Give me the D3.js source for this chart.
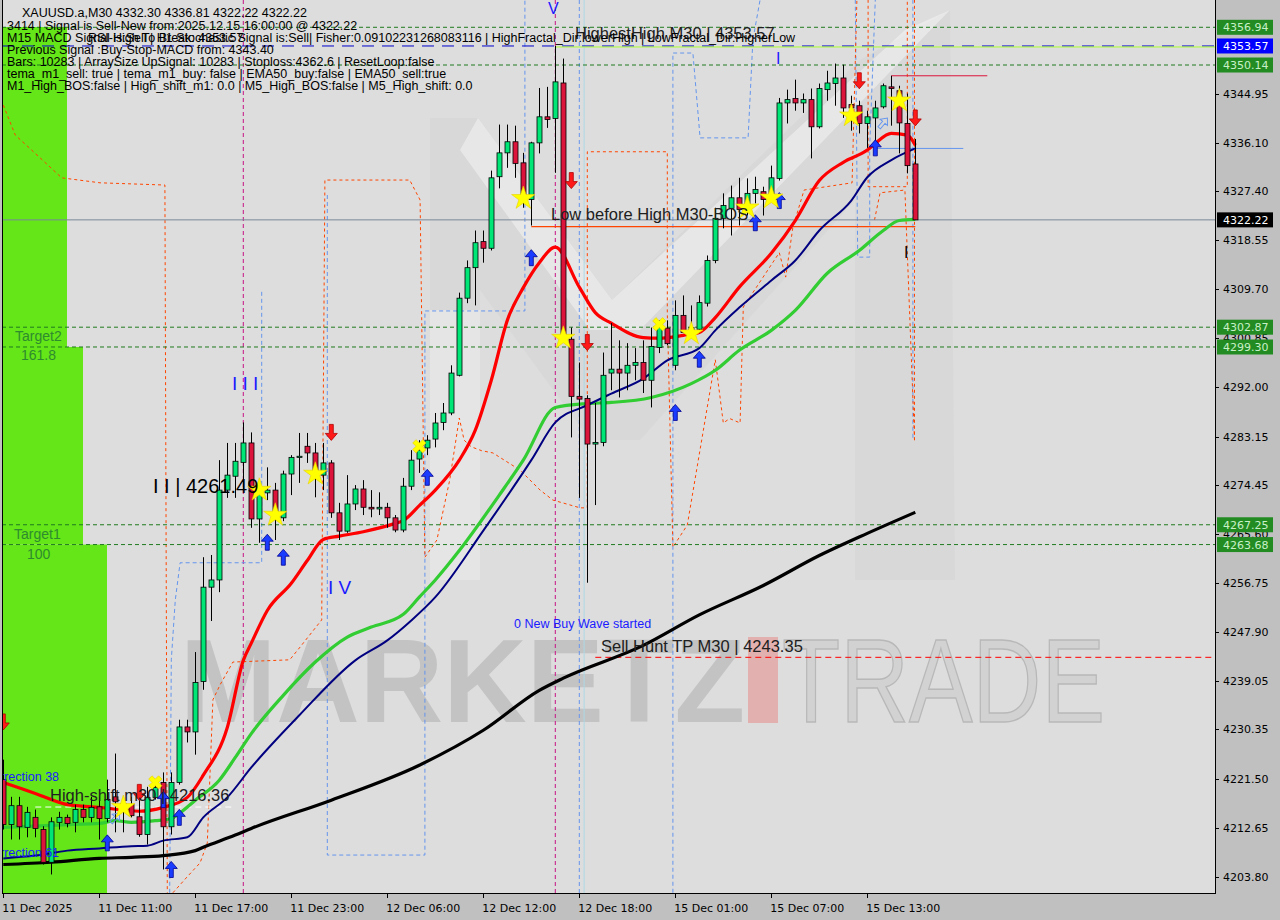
<!DOCTYPE html>
<html><head><meta charset="utf-8">
<script src="https://cdn.jsdelivr.net/npm/d3@7/dist/d3.min.js"></script>
<style>body{margin:0;background:#c0c0c0;}svg{display:block}</style>
</head><body><svg id="c" width="1280" height="920"></svg>
<script>
// ---------------- DATA ----------------
const open=[4221.3,4213.2,4216.6,4212.7,4214.5,4212.3,4206.4,4213.6,4214.5,4213.6,
4215.9,4214.5,4216.4,4214.3,4218.2,4216.3,4216.8,4214.6,4211.4,4218.1,
4220.8,4212.8,4220.8,4230.8,4229.9,4239.0,4256.0,4257.3,4273.5,4276.0,
4278.5,4282.0,4268.3,4273.0,4273.5,4268.5,4276.4,4279.4,4281.4,4280.2,
4276.2,4278.4,4269.4,4266.1,4271.0,4273.7,4270.4,4270.1,4270.4,4268.5,
4266.3,4274.2,4279.1,4281.1,4282.7,4285.7,4287.4,4294.2,4308.1,4313.6,
4318.3,4317.1,4330.0,4334.3,4336.3,4332.5,4325.9,4336.1,4340.8,4340.5,
4346.9,4300.7,4290.4,4290.0,4281.8,4282.1,4294.6,4295.3,4294.6,4296.0,
4296.5,4293.3,4299.2,4302.7,4296.0,4305.0,4301.8,4302.5,4307.2,4314.9,
4322.5,4324.3,4326.2,4324.8,4327.0,4327.3,4326.1,4329.7,4343.3,4344.1,
4343.3,4343.9,4339.0,4345.7,4346.8,4347.8,4343.0,4342.8,4339.6,4340.6,
4342.6,4346.2,4345.5,4339.6,4332.30];
const high=[4224.9,4218.2,4218.2,4216.4,4215.9,4212.9,4214.5,4215.5,4215.0,4216.8,
4216.8,4218.2,4218.2,4221.3,4226.0,4217.7,4218.2,4219.0,4220.0,4221.3,
4222.6,4222.6,4232.1,4232.1,4244.3,4261.4,4261.8,4278.9,4282.0,4282.0,
4285.7,4283.9,4274.8,4277.6,4274.8,4277.0,4279.8,4283.8,4283.8,4282.0,
4282.0,4278.9,4271.2,4276.2,4274.4,4275.3,4273.5,4273.1,4271.2,4269.0,
4275.7,4280.7,4282.5,4283.4,4287.4,4289.2,4296.0,4309.1,4314.9,4320.3,
4320.3,4331.1,4339.4,4339.4,4339.2,4334.3,4336.3,4346.0,4346.2,4353.57,
4351.3,4302.8,4296.5,4290.6,4289.2,4298.3,4303.6,4300.5,4300.0,4299.1,
4300.5,4302.8,4304.1,4304.1,4307.7,4308.6,4306.8,4308.6,4315.8,4324.4,
4327.0,4328.4,4329.8,4329.7,4330.0,4328.2,4332.0,4344.2,4345.7,4347.5,
4345.0,4345.9,4346.8,4349.1,4350.4,4350.2,4344.6,4343.7,4341.9,4343.7,
4346.8,4348.2,4346.4,4345.0,4336.81];
const low=[4212.3,4210.5,4210.5,4210.9,4210.9,4206.0,4204.2,4212.3,4212.7,4211.8,
4213.6,4213.6,4210.5,4213.6,4211.8,4211.8,4214.5,4211.0,4209.6,4217.7,
4205.1,4211.4,4220.4,4228.0,4225.8,4237.5,4249.9,4255.1,4272.1,4272.1,
4273.5,4266.7,4264.0,4271.7,4264.5,4267.9,4272.6,4274.8,4278.4,4272.2,
4273.5,4268.5,4264.5,4265.8,4269.9,4269.0,4268.6,4269.0,4266.7,4265.9,
4265.9,4273.5,4276.6,4279.8,4281.2,4284.3,4287.0,4294.0,4307.2,4306.8,
4314.5,4316.7,4327.9,4331.6,4329.8,4324.4,4321.2,4334.2,4338.8,4330.7,
4300.5,4283.0,4272.1,4256.8,4270.8,4281.4,4291.5,4290.2,4291.5,4293.3,
4291.0,4288.4,4298.2,4299.6,4295.1,4301.8,4300.9,4301.8,4306.6,4314.4,
4320.7,4319.4,4321.2,4323.0,4325.2,4323.0,4325.7,4329.3,4339.6,4341.9,
4341.5,4333.3,4338.7,4343.7,4342.8,4340.6,4338.3,4337.8,4335.2,4335.9,
4342.3,4339.2,4334.2,4330.6,4322.22];
const close=[4213.2,4216.6,4212.8,4215.4,4212.5,4206.4,4213.7,4214.5,4213.4,4215.9,
4214.5,4216.3,4214.3,4217.7,4217.3,4217.0,4214.8,4211.4,4218.1,4219.9,
4212.8,4220.8,4230.8,4229.9,4238.8,4256.0,4257.3,4273.5,4276.2,4278.7,
4282.0,4268.3,4272.8,4273.5,4268.3,4276.4,4279.4,4279.6,4280.2,4276.2,
4278.4,4269.4,4266.1,4271.0,4273.7,4270.4,4270.1,4270.4,4268.5,4266.3,
4274.2,4278.9,4280.7,4282.5,4285.6,4287.4,4294.6,4308.1,4313.6,4318.1,
4317.1,4329.8,4334.3,4336.3,4332.4,4326.6,4336.1,4340.8,4340.3,4347.1,
4301.4,4290.4,4289.9,4281.8,4282.1,4294.2,4295.3,4294.6,4296.0,4296.5,
4293.3,4299.4,4302.8,4299.9,4305.0,4301.9,4302.8,4307.3,4314.9,4322.5,
4324.8,4326.2,4324.1,4327.0,4327.7,4325.9,4329.8,4343.3,4343.9,4343.3,
4343.9,4339.0,4345.9,4346.9,4347.8,4342.4,4342.4,4339.6,4340.8,4342.4,
4346.4,4345.9,4339.7,4332.0,4322.22];

const xTickIdx=[0,12,24,36,48,60,72,84,96,108];
const xTickLabels=["11 Dec 2025","11 Dec 11:00","11 Dec 17:00","11 Dec 23:00","12 Dec 06:00","12 Dec 12:00","12 Dec 18:00","15 Dec 01:00","15 Dec 07:00","15 Dec 13:00"];
const yTicks=[4344.95,4336.10,4327.40,4318.55,4309.70,4300.85,4292.00,4283.15,4274.45,4265.60,4256.75,4247.90,4239.05,4230.35,4221.50,4212.65,4203.80];

// moving averages: [bar index, price]
const maRed=[[0,4220.8],[4,4218.8],[8,4216.8],[12,4216.3],[17,4215.6],[20,4216.3],[23,4218.1],[25,4222.1],[28,4230.7],[30,4242.8],[31,4245.9],[33,4251.8],[36,4256.7],[38,4260.8],[40,4264.6],[42,4265.2],[45,4266.0],[49,4267.5],[50,4268.0],[52,4270.7],[54,4273.5],[57,4278.9],[59,4284.3],[61,4293.3],[63,4304.1],[65,4310.0],[67,4314.5],[69,4317.3],[72,4310.1],[74,4305.5],[76,4303.6],[80,4301.0],[82,4300.9],[85,4301.4],[87,4301.9],[89,4304.6],[92,4310.1],[96,4316.2],[99,4322.1],[102,4329.3],[105,4332.6],[108,4334.8],[109,4336.0],[111,4337.8],[113,4337.5],[114,4335.7]];
const maGreen=[[0,4212.7],[4,4212.9],[8,4213.2],[12,4213.4],[14,4213.9],[16,4213.6],[19,4213.9],[21,4214.3],[22,4215.2],[24,4217.6],[27,4221.2],[29,4225.3],[31,4229.6],[35,4236.5],[39,4242.5],[43,4247.0],[46,4248.8],[50,4251.1],[52,4254.2],[54,4257.3],[57,4262.6],[62,4272.6],[65,4278.9],[69,4288.4],[73,4289.1],[76,4289.3],[81,4290.2],[86,4292.7],[89,4295.1],[92,4298.7],[96,4302.3],[99,4305.9],[103,4312.6],[107,4316.7],[110,4320.3],[112,4322.1],[114,4322.3]];
const maNavy=[[0,4207.1],[4,4207.6],[8,4208.5],[12,4208.9],[16,4209.3],[18,4209.4],[20,4210.3],[23,4210.9],[25,4214.5],[28,4218.1],[31,4223.5],[37,4232.9],[44,4242.8],[48,4246.4],[51,4250.0],[54,4254.2],[60,4266.2],[66,4278.9],[69,4285.7],[73,4288.8],[76,4290.9],[80,4293.6],[83,4296.9],[87,4299.1],[89,4302.3],[92,4306.4],[96,4311.3],[99,4314.9],[102,4320.3],[106,4325.7],[108,4329.9],[111,4333.0],[114,4335.1]];
const maBlack=[[0,4206.0],[6,4206.4],[12,4207.1],[16,4207.3],[20,4207.6],[24,4208.5],[25,4209.1],[29,4211.3],[31,4212.5],[41,4217.6],[52,4223.9],[60,4230.2],[67,4237.4],[70,4239.6],[80,4245.5],[87,4251.0],[95,4256.3],[102,4261.7],[108,4265.7],[114,4269.5]];

// channel indicator (dashed step lines): [bar index, price]
const blueStep1=[[20.8,4200.9],[21.0,4242.9],[21.5,4253.7],[22.1,4260.4],[32.3,4260.4],[32.3,4309.6]];
const blueStep2=[[40.5,4326.7],[40.5,4207.7],[52.7,4207.7],[52.7,4305.8],[65.2,4305.8],[65.2,4361.9]];
const blueStep3=[[83.7,4200.9],[83.7,4352.3],[86.2,4352.3],[87.1,4337.0],[93.1,4337.0],[93.7,4354.7],[94.6,4361.9]];
const blueStep4=[[106.5,4361.9],[106.8,4315.5],[108.3,4315.5],[108.3,4335.4],[109.0,4361.9]];
const blueStep5=[[113.7,4361.9],[113.7,4282.5]];
const orangeStep1=[[0,4342.9],[1.5,4337.5],[4.6,4333.4],[7.3,4329.8],[12.1,4328.9],[20.2,4328.5],[20.5,4200.9]];
const orangeStep2=[[21.2,4200.9],[23.0,4203.8],[24.6,4206.3],[25.5,4209.9],[26.2,4235.7],[27.1,4238.4],[28.7,4242.5],[35.8,4242.9],[37.1,4245.2],[39.8,4250.1],[40.2,4329.4],[50.8,4329.4],[52.1,4325.8],[52.7,4261.4],[54.2,4264.5],[55.8,4275.3],[57.0,4286.5],[57.6,4282.5],[58.5,4281.3],[59.8,4280.6],[61.2,4280.2],[64.6,4277.1],[67.1,4273.5],[68.7,4271.7],[72.1,4270.3],[73.0,4270.3],[73.0,4334.5],[83.0,4334.5],[83.0,4305.4],[83.7,4263.2],[85.5,4267.2],[89.0,4297.0],[90.0,4285.6],[90.8,4286.4],[92.1,4285.6],[92.5,4306.5],[97.0,4316.3],[97.8,4311.9],[98.7,4320.9],[100.1,4327.6],[106.1,4328.9],[106.7,4361.9]];
const orangeStep3=[[108.1,4361.9],[108.1,4328.2],[113.0,4328.2],[113.0,4361.9]];
const orangeStep4=[[108.9,4322.2],[109.6,4327.1],[112.7,4327.6],[113.9,4282.5]];
const orangeStep5=[[113.9,4361.9],[113.9,4282.5]];

// signals: [bar index, price]
const buyArrows=[[13,4209.9],[20,4217.7],[21,4205.1],[22,4214.5],[33,4264.1],[35,4261.4],[53,4275.8],[66,4315.4],[84,4287.5],[87,4297.1],[94,4321.7],[97,4325.7],[109,4335.2]];
const sellArrows=[[0,4231.7],[17,4219.0],[41,4283.9],[71,4329.3],[73,4300.1],[107,4347.3],[114,4340.6]];
const hollowArrows=[[14,4214.4],[110,4339.7]];
const stars=[[15,4216.3],[32,4273.5],[34,4269.0],[39,4276.4],[65,4326.1],[70,4300.9],[86,4301.7],[93,4324.4],[96,4326.2],[106,4341.0],[112,4343.7]];
const crosses=[[19,4220.8],[52,4281.4],[82,4303.4]];

// horizontal levels
const targetLevels=[4356.94,4350.14,4302.87,4299.30,4267.25,4263.68];
const highestHigh=4353.57, bidPrice=4322.22, lowBeforeHigh=4321.0, sellHuntTP=4243.35, highShift=4216.36;
const axisBoxes=[[4356.94,"green"],[4353.57,"blue"],[4350.14,"green"],[4322.22,"black"],[4302.87,"green"],[4299.30,"green"],[4267.25,"green"],[4263.68,"green"]];

const headerLines=["3414 | Signal is Sell-New from:2025.12.15 16:00:00 @ 4322.22",
"M15 MACD Signal is:Sell | H1 Stochastic Signal is:Sell| Fisher:0.09102231268083116 | HighFractal_Dir:lowerHigh | LowFractal_Dir:HigherLow",
"Previous Signal :Buy-Stop-MACD from: 4343.40",
"Bars: 10283 | ArraySize UpSignal: 10283 | Stoploss:4362.6 | ResetLoop:false",
"tema_m1_sell: true | tema_m1_buy: false | EMA50_buy:false | EMA50_sell:true",
"M1_High_BOS:false | High_shift_m1: 0.0 | M5_High_BOS:false | M5_High_shift: 0.0"];

// ---------------- DRAW ----------------
const svg=d3.select("#c");
const PL=2,PR=1215,PT=0,PB=893;
const x=d3.scaleLinear().domain([0,114]).range([3.3,915.3]);
const y=d3.scaleLinear().domain([4361.86,4200.86]).range([0,893]);

svg.append("rect").attr("x",0).attr("y",0).attr("width",1280).attr("height",920).attr("fill","#c0c0c0");
svg.append("rect").attr("x",PL).attr("y",PT).attr("width",PR-PL).attr("height",PB-PT).attr("fill","#dddddd");
const defs=svg.append("defs");
defs.append("clipPath").attr("id","clip").append("rect").attr("x",PL).attr("y",PT).attr("width",PR-PL).attr("height",PB-PT);
const g=svg.append("g").attr("clip-path","url(#clip)");

// watermark logo
const wm=g.append("g");
wm.append("path").attr("d","M430,580 L430,118 L478,118 L612,300 L860,60 L950,10 L955,580 L855,580 L855,200 L640,440 L590,440 L480,290 L480,580 Z").attr("fill","#cccccc").attr("opacity",0.3);
wm.append("path").attr("d","M478,118 L612,300 L905,30 L950,10 L640,330 L590,330 L460,150 Z").attr("fill","#f4f4f4").attr("opacity",0.55);
wm.append("path").attr("d","M430,310 L480,310 L480,580 L430,580 Z").attr("fill","#f2f2f2").attr("opacity",0.5);
wm.append("text").attr("x",180).attr("y",722).attr("font-family","Liberation Sans").attr("font-weight","bold").attr("font-size",118).attr("fill","#c3c3c3").attr("textLength",565).attr("lengthAdjust","spacingAndGlyphs").text("MARKETZ");
wm.append("rect").attr("x",748).attr("y",637).attr("width",30).attr("height",86).attr("fill","#e3b0b0");
wm.append("text").attr("x",782).attr("y",722).attr("font-family","Liberation Sans").attr("font-size",118).attr("fill","#d2d2d2").attr("stroke","#b8b8b8").attr("stroke-width",1.5).attr("textLength",323).attr("lengthAdjust","spacingAndGlyphs").text("TRADE");

// green target zones
g.append("rect").attr("x",PL).attr("y",27).attr("width",65).attr("height",y(4299.30)-27).attr("fill","#64e619");
g.append("rect").attr("x",PL).attr("y",y(4299.30)).attr("width",81).attr("height",y(4263.68)-y(4299.30)).attr("fill","#64e619");
g.append("rect").attr("x",PL).attr("y",y(4263.68)).attr("width",105).attr("height",PB-y(4263.68)).attr("fill","#64e619");

// vertical lines
const magentaV=[30,69];
g.selectAll(".vm").data(magentaV).enter().append("line").attr("x1",d=>x(d)).attr("x2",d=>x(d)).attr("y1",PT).attr("y2",PB).attr("stroke","#c71585").attr("stroke-dasharray","4,3");
g.append("line").attr("x1",x(72.6)).attr("x2",x(72.6)).attr("y1",PT).attr("y2",PB).attr("stroke","#add8e6");
g.append("line").attr("x1",x(72.0)).attr("x2",x(72.0)).attr("y1",PT).attr("y2",PB).attr("stroke","#6495ed").attr("stroke-dasharray","4,3");

// dashed channel step lines
const sl=d3.line().x(d=>x(d[0])).y(d=>y(d[1]));
[blueStep1,blueStep2,blueStep3,blueStep4,blueStep5].forEach(s=>g.append("path").attr("d",sl(s)).attr("fill","none").attr("stroke","#6495ed").attr("stroke-width",1).attr("stroke-dasharray","4,3"));
[orangeStep1,orangeStep2,orangeStep3,orangeStep4,orangeStep5].forEach(s=>g.append("path").attr("d",sl(s)).attr("fill","none").attr("stroke","#ff4500").attr("stroke-width",1).attr("stroke-dasharray","3,3"));

// horizontal levels
g.selectAll(".tl").data(targetLevels).enter().append("line").attr("x1",PL).attr("x2",PR).attr("y1",d=>y(d)).attr("y2",d=>y(d)).attr("stroke","#1f7a1f").attr("stroke-dasharray","4,3");
g.append("line").attr("x1",PL).attr("x2",PR).attr("y1",y(highestHigh)).attr("y2",y(highestHigh)).attr("stroke","#0000cd").attr("stroke-dasharray","12,8");
g.append("line").attr("x1",x(69)).attr("x2",PR).attr("y1",y(highestHigh)+1).attr("y2",y(highestHigh)+1).attr("stroke","#adff2f");
g.append("line").attr("x1",PL).attr("x2",PR).attr("y1",y(bidPrice)).attr("y2",y(bidPrice)).attr("stroke","#778899");
g.append("line").attr("x1",x(66)).attr("x2",x(114)).attr("y1",y(lowBeforeHigh)).attr("y2",y(lowBeforeHigh)).attr("stroke","#ff4500").attr("stroke-width",1.2);
g.append("line").attr("x1",x(74)).attr("x2",PR).attr("y1",y(sellHuntTP)).attr("y2",y(sellHuntTP)).attr("stroke","#ff0000").attr("stroke-dasharray","6,4");
g.append("line").attr("x1",x(4)).attr("x2",x(29)).attr("y1",y(highShift)).attr("y2",y(highShift)).attr("stroke","#ffffff").attr("stroke-dasharray","6,4");
g.append("line").attr("x1",x(111)).attr("x2",x(123)).attr("y1",y(4348.2)).attr("y2",y(4348.2)).attr("stroke","#dc143c");
g.append("line").attr("x1",x(109)).attr("x2",x(120)).attr("y1",y(4335.1)).attr("y2",y(4335.1)).attr("stroke","#6495ed");

// moving averages
const ln=d3.line().x(d=>x(d[0])).y(d=>y(d[1])).curve(d3.curveMonotoneX);
g.append("path").attr("d",ln(maBlack)).attr("fill","none").attr("stroke","#000").attr("stroke-width",3.2);
g.append("path").attr("d",ln(maGreen)).attr("fill","none").attr("stroke","#32cd32").attr("stroke-width",3.2);
g.append("path").attr("d",ln(maNavy)).attr("fill","none").attr("stroke","#000080").attr("stroke-width",2);
g.append("path").attr("d",ln(maRed)).attr("fill","none").attr("stroke","#ff0000").attr("stroke-width",3.2);

// candles
const idx=d3.range(open.length);
const cg=g.append("g");
cg.selectAll(".wick").data(idx).enter().append("line").attr("x1",i=>Math.round(x(i))+0.5).attr("x2",i=>Math.round(x(i))+0.5)
 .attr("y1",i=>y(high[i])).attr("y2",i=>y(low[i])).attr("stroke","#000").attr("stroke-width",1);
cg.selectAll(".body").data(idx).enter().append("rect")
 .attr("x",i=>Math.round(x(i))-2).attr("width",5)
 .attr("y",i=>y(Math.max(open[i],close[i])))
 .attr("height",i=>Math.max(1,Math.abs(y(open[i])-y(close[i]))))
 .attr("fill",i=>close[i]>=open[i]?"#00e676":"#dc143c").attr("stroke","#000").attr("stroke-width",0.8);

// arrows
const upPath="M0,-8 L6,-1 L2,-1 L2,8 L-2,8 L-2,-1 L-6,-1 Z";
g.selectAll(".ua").data(buyArrows).enter().append("path").attr("d",upPath)
 .attr("transform",d=>`translate(${x(d[0])},${y(d[1])})`).attr("fill","#1a3cff").attr("stroke","#000090").attr("stroke-width",0.8);
g.selectAll(".da").data(sellArrows).enter().append("path").attr("d",upPath)
 .attr("transform",d=>`translate(${x(d[0])},${y(d[1])}) rotate(180)`).attr("fill","#ff1a1a").attr("stroke","#b00000").attr("stroke-width",0.8);
g.selectAll(".ha").data(hollowArrows).enter().append("path").attr("d",upPath)
 .attr("transform",d=>`translate(${x(d[0])},${y(d[1])}) rotate(40) scale(0.8)`).attr("fill","none").attr("stroke","#6495ed").attr("stroke-width",1.2);
const star=d3.symbol().type(d3.symbolStar).size(170);
g.selectAll(".st").data(stars).enter().append("path").attr("d",star)
 .attr("transform",d=>`translate(${x(d[0])},${y(d[1])})`).attr("fill","#ffff00").attr("stroke","#e8d000").attr("stroke-width",0.6);
const cross=d3.symbol().type(d3.symbolCross).size(110);
g.selectAll(".cr").data(crosses).enter().append("path").attr("d",cross)
 .attr("transform",d=>`translate(${x(d[0])},${y(d[1])}) rotate(45)`).attr("fill","#ffff00").attr("stroke","#e8d000").attr("stroke-width",0.6);

// chart texts
const T=(xx,yy,t,size,fill,fam)=>g.append("text").attr("x",xx).attr("y",yy).attr("font-family",fam||"Liberation Sans").attr("font-size",size).attr("fill",fill).text(t);
T(575,39,"HighestHigh   M30 | 4353.57",16.5,"#202020");
T(551,220,"Low before High   M30-BOS",16.5,"#202020");
T(601,652,"Sell Hunt TP M30 | 4243.35",16.5,"#202020");
T(50,801,"High-shift m30 | 4216.36",16.5,"#202020");
T(153,493,"I I | 4261.49",20,"#000");
T(514,628,"0 New Buy Wave started",12.5,"#1a1aff");
T(232,390,"I I I",19,"#1a1aff");
T(328,594,"I V",19,"#1a1aff");
T(548,14,"V",16,"#1a1aff");
T(776,64,"I",16,"#1a1aff");
T(904,258,"I",16,"#000");
T(0,781,"rrection 38",12.5,"#1a1aff");
T(0,857,"rrection 61",12.5,"#1a1aff");
T(15,341,"Target2",14,"#2e8b2e");
T(21,360,"161.8",14,"#2e8b2e");
T(14,539,"Target1",14,"#2e8b2e");
T(27,559,"100",14,"#2e8b2e");

// header
const hg=svg.append("g").attr("font-family","Liberation Sans").attr("font-size",12.5).attr("fill","#000");
hg.append("text").attr("x",22).attr("y",17).text("XAUUSD.a,M30  4332.30 4336.81 4322.22 4322.22");
hg.selectAll(".hl").data(headerLines).enter().append("text").attr("x",7).attr("y",(d,i)=>29.5+i*12.1).text(d=>d);
hg.append("text").attr("x",88).attr("y",41.6).text("RSI-High To Break: 4353.57");

// axes frame
svg.append("line").attr("x1",PR+0.5).attr("x2",PR+0.5).attr("y1",0).attr("y2",PB+1).attr("stroke","#000");
svg.append("line").attr("x1",PL).attr("x2",PR+1).attr("y1",PB+0.5).attr("y2",PB+0.5).attr("stroke","#000");
svg.append("line").attr("x1",PL+0.5).attr("x2",PL+0.5).attr("y1",0).attr("y2",PB).attr("stroke","#000");

// right axis
const ya=svg.append("g").attr("font-family","DejaVu Sans").attr("font-size",11);
ya.selectAll(".yt").data(yTicks).enter().append("line").attr("x1",PR).attr("x2",PR+4).attr("y1",d=>Math.round(y(d))+0.5).attr("y2",d=>Math.round(y(d))+0.5).attr("stroke","#000");
ya.selectAll(".yl").data(yTicks).enter().append("text").attr("x",1223).attr("y",d=>y(d)+4).attr("fill","#000").text(d=>d.toFixed(2));
const boxCol={green:"#228b22",blue:"#0000ff",black:"#000000"};
const txtCol={green:"#c8f0c8",blue:"#ffffff",black:"#ffffff"};
axisBoxes.forEach(([p,c])=>{
  ya.append("rect").attr("x",1217).attr("y",y(p)-7.5).attr("width",56).attr("height",15).attr("fill",boxCol[c]);
  ya.append("text").attr("x",1223).attr("y",y(p)+4).attr("fill",txtCol[c]).text(p.toFixed(2));
});

// bottom axis
const xa=svg.append("g").attr("font-family","DejaVu Sans").attr("font-size",11);
xa.selectAll(".xt").data(xTickIdx).enter().append("line").attr("x1",i=>Math.round(x(i))+0.5).attr("x2",i=>Math.round(x(i))+0.5).attr("y1",PB).attr("y2",PB+5).attr("stroke","#000");
xa.selectAll(".xl").data(xTickIdx).enter().append("text").attr("x",i=>x(i)-1).attr("y",912).attr("fill","#000").text((d,i)=>xTickLabels[i]);
</script></body></html>
